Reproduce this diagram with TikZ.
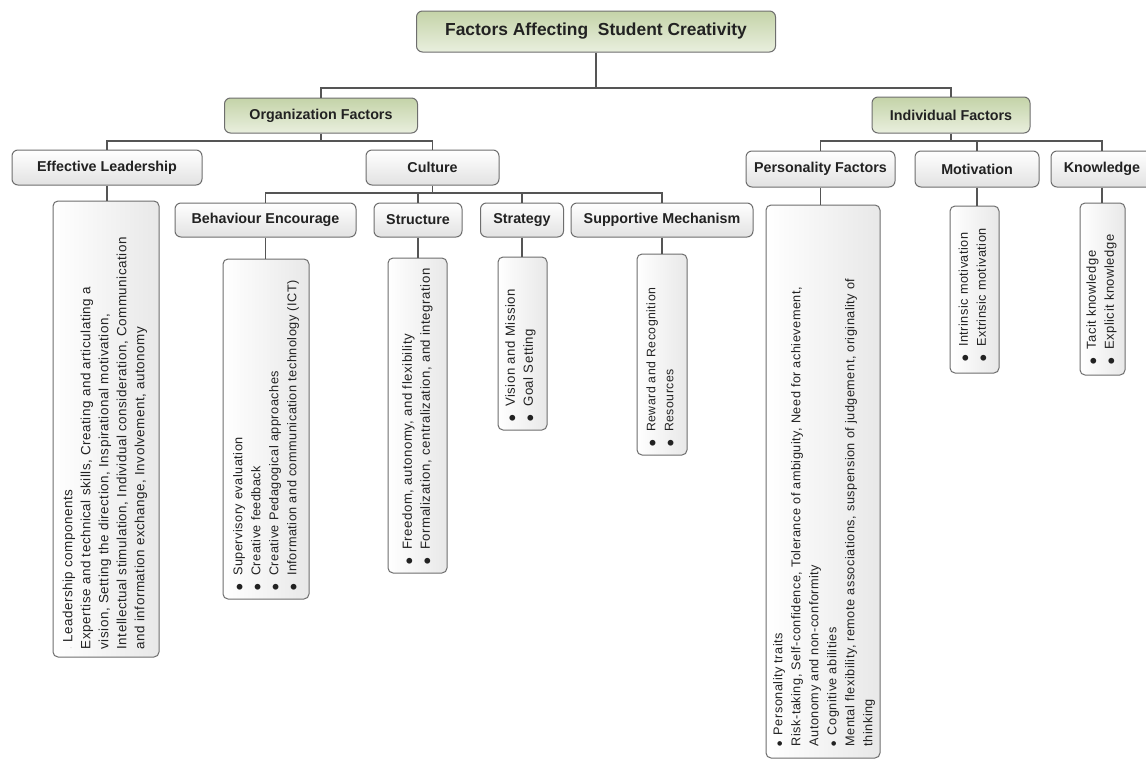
\documentclass[tikz,border=0pt]{standalone}
\usepackage{fontspec}
\setmainfont{Liberation Sans}
\newfontfamily\leaffont[LetterSpace=4]{Liberation Sans}
\newfontfamily\labelfont{Liberation Sans}
\newfontfamily\symfont{DejaVu Sans}
\usetikzlibrary{calc}
\definecolor{bordergray}{RGB}{110,110,110}
\definecolor{linegray}{RGB}{85,85,85}
\definecolor{boxgray}{RGB}{226,226,226}
\definecolor{leafgray}{RGB}{232,232,232}
\definecolor{greentop}{RGB}{196,211,168}
\definecolor{greenbot}{RGB}{233,239,222}
\definecolor{txt}{RGB}{34,34,34}
\tikzset{
  conn/.style={draw=linegray, line width=1.1pt},
  box/.style={draw=bordergray, line width=1pt, rounded corners=6pt, inner sep=0pt,
    font=\labelfont\fontsize{14.3}{16}\selectfont\bfseries, text=txt},
  graybox/.style={box, top color=white, bottom color=boxgray},
  greenbox/.style={box, top color=greentop, bottom color=greenbot},
  leafbox/.style={draw=bordergray, line width=1pt, rounded corners=5pt, inner sep=0pt,
    left color=white, right color=leafgray},
  leaftext/.style={rotate=90, anchor=west, inner sep=0pt, align=left, text=txt},
  lf/.style={font=\leaffont\fontsize{#1}{18}\selectfont}
}
\newcommand{\bul}{{\symfont\fontsize{7.5}{8}\selectfont\raisebox{0.6pt}{●}}\hspace{8pt}}
\newcommand{\sbul}{{\symfont\fontsize{6}{8}\selectfont\raisebox{0.8pt}{●}}\hspace{6pt}}
\begin{document}
\begin{tikzpicture}[x=1pt,y=-1pt]
\useasboundingbox (0,0) rectangle (1146,761);
\clip (0,0) rectangle (1146,761);
\fill[white] (0,0) rectangle (1146,761);

% level boxes
\node[greenbox, minimum width=359pt, minimum height=41pt,
  font=\labelfont\fontsize{17.4}{20}\selectfont\bfseries] (title) at (596,31.5) {Factors Affecting\ \ Student Creativity};
\node[greenbox, minimum width=193pt, minimum height=35pt] (org) at (321,115.5) {Organization Factors};
\node[greenbox, minimum width=158pt, minimum height=36pt] (ind) at (951,115) {Individual Factors};

\node[graybox, minimum width=190pt, minimum height=35pt] (lead) at (107,167.5) {Effective Leadership};
\node[graybox, minimum width=133pt, minimum height=35pt] (cult) at (432.5,167.5) {Culture};

\node[graybox, minimum width=181pt, minimum height=34pt] (behav) at (265.5,220) {Behaviour Encourage};
\node[graybox, minimum width=88pt, minimum height=34pt] (struct) at (418,220) {Structure};
\node[graybox, minimum width=83pt, minimum height=34pt] (strat) at (522,220) {Strategy};
\node[graybox, minimum width=182pt, minimum height=34pt] (supp) at (662,220) {Supportive Mechanism};

\node[graybox, minimum width=149pt, minimum height=36pt] (pers) at (820.5,169) {Personality Factors};
\node[graybox, minimum width=124pt, minimum height=36pt] (motiv) at (977,169) {Motivation};
\node[graybox, minimum width=102pt, minimum height=36pt] (know) at (1102,169) {Knowledge};

% leaf boxes
\node[leafbox, minimum width=106pt, minimum height=456pt] (leadL) at (106,429) {};
\node[leafbox, minimum width=86pt, minimum height=340pt] (behL) at (266,429) {};
\node[leafbox, minimum width=59pt, minimum height=315pt] (strL) at (417.5,415.5) {};
\node[leafbox, minimum width=49pt, minimum height=173pt] (stgL) at (522.5,343.5) {};
\node[leafbox, minimum width=50pt, minimum height=201pt] (supL) at (662,354.5) {};
\node[leafbox, minimum width=114pt, minimum height=553pt] (perL) at (823,481.5) {};
\node[leafbox, minimum width=49pt, minimum height=167pt] (motL) at (974.5,289.5) {};
\node[leafbox, minimum width=45pt, minimum height=172pt] (knoL) at (1102.5,289) {};

% leaf texts
\node[leaftext, lf=13.4] (leadT) at ($(leadL.south)+(-1,-8)$) {%
  {\tiny$\cdot$}\ Leadership components\\
  Expertise and technical skills, Creating and articulating a\\
  vision, Setting the direction, Inspirational motivation,\\
  Intellectual stimulation, Individual consideration, Communication\\
  and information exchange, Involvement, autonomy};
\node[leaftext, lf=12.7] (behT) at ($(behL.south)+(0,-9)$) {%
  \bul Supervisory evaluation\\
  \bul Creative feedback\\
  \bul Creative Pedagogical approaches\\
  \bul Information and communication technology (ICT)};
\node[leaftext, lf=13.2] (strT) at ($(strL.south)+(0,-9)$) {%
  \bul Freedom, autonomy, and flexibility\\
  \bul Formalization, centralization, and integration};
\node[leaftext, lf=13.2] (stgT) at ($(stgL.south)+(-2,-9)$) {%
  \bul Vision and Mission\\
  \bul Goal Setting};
\node[leaftext, lf=12.3] (supT) at ($(supL.south)+(-2,-9)$) {%
  \bul Reward and Recognition\\
  \bul Resources};
\node[leaftext, lf=12.7] (perT) at ($(perL.south)+(1,-12)$) {%
  \sbul Personality traits\\
  Risk-taking, Self-confidence, Tolerance of ambiguity, Need for achievement,\\
  Autonomy and non-conformity\\
  \sbul Cognitive abilities\\
  Mental flexibility, remote associations, suspension of judgement, originality of\\
  thinking};
\node[leaftext, lf=12.7] (motT) at ($(motL.south)+(-2,-12)$) {%
  \bul Intrinsic motivation\\
  \bul Extrinsic motivation};
\node[leaftext, lf=13] (knoT) at ($(knoL.south)+(-1,-11)$) {%
  \bul Tacit knowledge\\
  \bul Explicit knowledge};

% connectors
\coordinate (b0) at (0,88);
\coordinate (b1) at (0,141);
\coordinate (b2) at (0,193);
\draw[conn] (title.south) -- (title.south |- b0) -| (org.north);
\draw[conn] (title.south |- b0) -| (ind.north);
\draw[conn] (org.south) -- (org.south |- b1) -| (lead.north);
\draw[conn] (org.south |- b1) -| (cult.north);
\draw[conn] (ind.south) -- (ind.south |- b1) -| (pers.north);
\draw[conn] (ind.south |- b1) -| (motiv.north);
\draw[conn] (ind.south |- b1) -| (know.north);
\draw[conn] (cult.south) -- (cult.south |- b2) -| (behav.north);
\draw[conn] (cult.south |- b2) -| (struct.north);
\draw[conn] (cult.south |- b2) -| (strat.north);
\draw[conn] (cult.south |- b2) -| (supp.north);
\draw[conn] (lead.south) -- (lead.south |- leadL.north);
\draw[conn] (behav.south) -- (behav.south |- behL.north);
\draw[conn] (struct.south) -- (struct.south |- strL.north);
\draw[conn] (strat.south) -- (strat.south |- stgL.north);
\draw[conn] (supp.south) -- (supp.south |- supL.north);
\draw[conn] (pers.south) -- (pers.south |- perL.north);
\draw[conn] (motiv.south) -- (motiv.south |- motL.north);
\draw[conn] (know.south) -- (know.south |- knoL.north);
\end{tikzpicture}
\end{document}
